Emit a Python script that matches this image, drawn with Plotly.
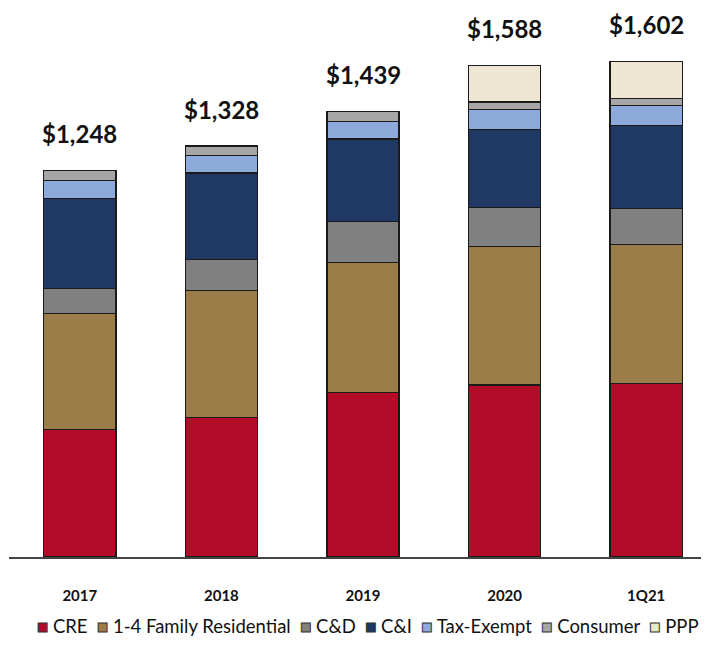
import plotly.graph_objects as go

categories = ["2017", "2018", "2019", "2020", "1Q21"]
totals = [1248, 1328, 1439, 1588, 1602]
total_labels = ["$1,248", "$1,328", "$1,439", "$1,588", "$1,602"]

cre = [412, 450, 531, 556, 561]
family_1_4 = [375, 412, 421, 447, 449]
c_and_d = [81, 100, 131, 126, 116]
c_and_i = [291, 279, 268, 253, 269]
tax_exempt = [57, 57, 56, 65, 65]
consumer = [32, 30, 32, 23, 22]
ppp = [None, None, None, 118, 120]

series_names = ["CRE", "1-4 Family Residential", "C&D", "C&I", "Tax-Exempt", "Consumer", "PPP"]
series_values = [cre, family_1_4, c_and_d, c_and_i, tax_exempt, consumer, ppp]
series_colors = ["#B20C28", "#9B7D49", "#808080", "#1F3864", "#8EAADB", "#A6A6A6", "#EEE6D3"]

FONT = "Lato, Roboto, sans-serif"

fig = go.Figure()
for name, vals, col in zip(series_names, series_values, series_colors):
    fig.add_trace(go.Bar(
        x=categories, y=vals, name=name,
        marker=dict(color=col, line=dict(color="#1a1a1a", width=1.3)),
        hoverinfo="skip", showlegend=False,
    ))

# total labels above each stacked bar
for i, (tot, lab) in enumerate(zip(totals, total_labels)):
    fig.add_annotation(
        x=i, y=tot, xref="x", yref="y", text=lab, showarrow=False,
        xanchor="center", yanchor="middle", yshift=37,
        font=dict(family=FONT, size=24, color="#111111", weight="bold"),
    )

# legend row built from series names and colours
legend_parts = []
for name, col in zip(series_names, series_colors):
    legend_parts.append(
        f"<span style='color:{col};stroke:#333333;stroke-width:1px'>■</span> {name}"
    )
fig.add_annotation(
    x=0.507, y=-0.1257, xref="paper", yref="paper",
    text="  ".join(legend_parts), showarrow=False,
    xanchor="center", yanchor="middle",
    font=dict(family=FONT, size=18.5, color="#111111"),
)

fig.update_layout(
    width=709, height=650,
    barmode="stack", bargap=0.49,
    plot_bgcolor="white", paper_bgcolor="white",
    margin=dict(l=1, r=0, t=0, b=101),
    showlegend=False,
    xaxis=dict(
        type="category", range=[-0.5, 4.5],
        showline=True, linecolor="#444444", linewidth=2,
        showgrid=False, zeroline=False, ticks="",
        tickfont=dict(family=FONT, size=15, color="#111111", weight="bold"),
        ticklabelstandoff=24,
    ),
    yaxis=dict(
        range=[0, 1774], visible=False, showgrid=False, zeroline=False,
    ),
)

fig.write_html("out.html")
